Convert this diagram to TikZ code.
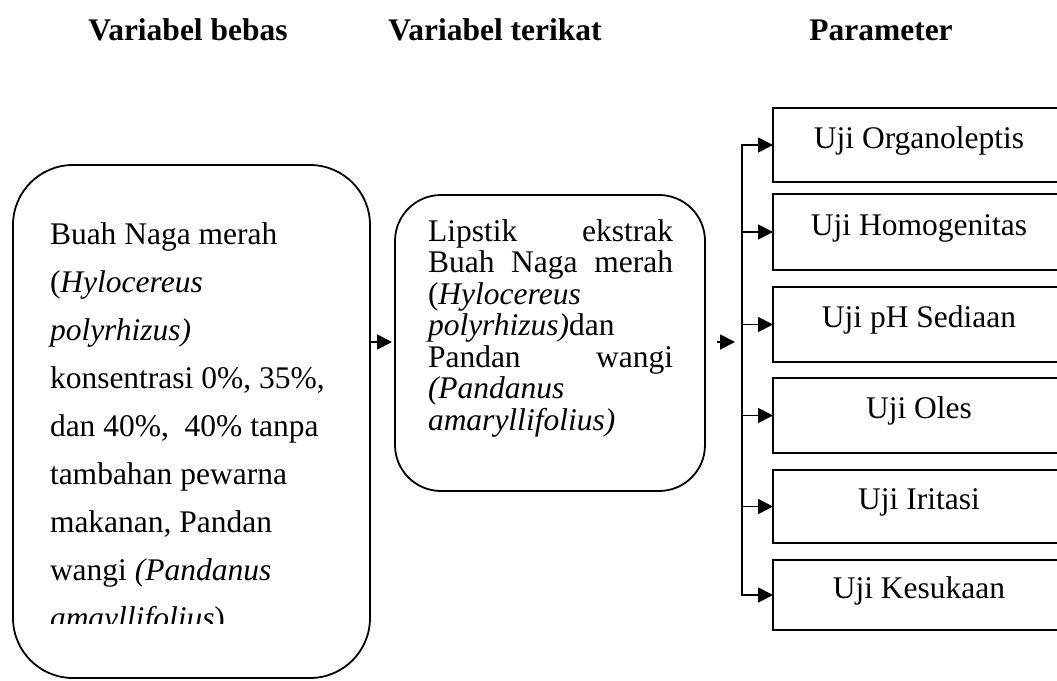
\documentclass[tikz,border=0pt]{standalone}
\usepackage{fontspec}
\setmainfont{Liberation Serif}
\usetikzlibrary{arrows.meta}
\begin{document}
\begin{tikzpicture}[x=1pt,y=-1pt,
  every node/.style={inner sep=0pt, outer sep=0pt},
  tip/.tip={Triangle[length=15pt,width=15pt]},
  arr/.style={line width=1.8pt, -tip},
  rbox/.style={draw, line width=1.8pt, anchor=north west},
  pbox/.style={draw, line width=1.8pt, minimum width=292pt, anchor=north west,
    text height=20pt, text depth=14pt, font=\fontsize{31.5}{36}\selectfont},
  head/.style={font=\fontsize{31.5}{36}\selectfont\bfseries, anchor=base},
]
\useasboundingbox (0,0) rectangle (1057,680);
\clip (0,0) rectangle (1057,680);

% headers
\node[head] (h1) at (188,40) {Variabel bebas};
\node[head] (h2) at (495,40) {Variabel terikat};
\node[head] (h3) at (881,40) {Parameter};

% left box
\node[rbox, rounded corners=60pt, minimum width=357pt, minimum height=513pt] (lb) at (13,165) {};
\begin{scope}
\clip (0,0) rectangle (1057,623);
\node[anchor=base west] (lt) at (50,244) {\parbox[t]{318pt}{\fontsize{31.5}{48}\selectfont\raggedright
Buah Naga merah\\
(\textit{Hylocereus}\\
\textit{polyrhizus)}\\
konsentrasi 0\%, 35\%,\\
dan 40\%,\ \ 40\% tanpa\\
tambahan pewarna\\
makanan, Pandan\\
wangi \textit{(Pandanus}\\
\textit{amayllifolius})}};
\end{scope}

% middle box
\node[rbox, rounded corners=46pt, minimum width=310pt, minimum height=296pt] (mb) at (395,195) {};
\node[anchor=base west] (mt) at (428,241) {\parbox[t]{245pt}{\fontsize{31.5}{31.5}\selectfont
Lipstik\hfill ekstrak\\
Buah\hfill Naga\hfill merah\\
(\textit{Hylocereus}\\
\textit{polyrhizus)}dan\\
Pandan\hfill wangi\\
\textit{(Pandanus}\\
\textit{amaryllifolius)}}};

% parameter boxes
\node[pbox, minimum height=74pt] (p1) at (773,108) {Uji Organoleptis};
\node[pbox, minimum height=76pt] (p2) at (773,194) {Uji Homogenitas};
\node[pbox, minimum height=75pt] (p3) at (773,287) {Uji pH Sediaan};
\node[pbox, minimum height=75pt] (p4) at (773,378) {Uji Oles};
\node[pbox, minimum height=73pt] (p5) at (773,470) {Uji Iritasi};
\node[pbox, minimum height=70pt] (p6) at (773,560) {Uji Kesukaan};

% connectors
\coordinate (ya) at (0,342);
\coordinate (yb) at (0,342);
\coordinate (tk) at (742,0);
\draw[arr, shorten >=3pt] (lb.east |- ya) -- (mb.west |- ya);
\draw[arr, shorten <=12pt, shorten >=7pt] (mb.east |- yb) -- (tk |- yb);
\draw[line width=1.8pt, tip-tip] (p1.west) -- (p1.west -| tk) -- (p6.west -| tk) -- (p6.west);
\foreach \i in {2,...,5} \draw[arr] (p\i.west -| tk) -- (p\i.west);
\end{tikzpicture}
\end{document}
